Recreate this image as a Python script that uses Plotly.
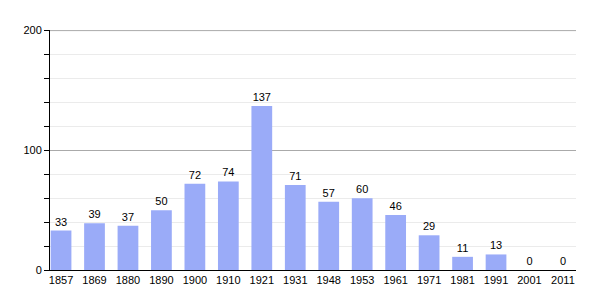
import plotly.graph_objects as go

years = ["1857", "1869", "1880", "1890", "1900", "1910", "1921", "1931",
         "1948", "1953", "1961", "1971", "1981", "1991", "2001", "2011"]
population = [33, 39, 37, 50, 72, 74, 137, 71, 57, 60, 46, 29, 11, 13, 0, 0]

fig = go.Figure(go.Bar(
    x=years, y=population,
    marker=dict(color="#9aabf8", line=dict(width=0)),
    width=0.62,
    text=[str(v) for v in population],
    textposition="outside",
    textfont=dict(size=11, color="#000"),
    cliponaxis=False,
))

fig.update_layout(
    width=605, height=300,
    margin=dict(l=50, r=29, t=30, b=30),
    paper_bgcolor="white", plot_bgcolor="white",
    font=dict(family="Liberation Sans, Arial, sans-serif", size=11, color="#000"),
    showlegend=False,
    bargap=0.38,
    shapes=[dict(type="line", xref="x domain", x0=0, x1=1, yref="y", y0=200, y1=200,
                 line=dict(color="#aaaaaa", width=1), layer="above")],
)
fig.update_xaxes(
    type="category", range=[-0.33, 15.39],
    showline=True, linecolor="#000", linewidth=1,
    ticks="", showgrid=False, tickfont=dict(size=11),
)
fig.update_yaxes(
    range=[0, 200.5], tickvals=[0, 100, 200],
    showline=True, linecolor="#000", linewidth=1,
    ticks="outside", ticklen=5, tickcolor="#000",
    gridcolor="#aaaaaa", gridwidth=1,
    zeroline=False,
    minor=dict(dtick=20, showgrid=True, gridcolor="#ebebeb",
               ticks="outside", ticklen=5, tickcolor="#000"),
    tickfont=dict(size=11, color="#000"),
)

fig.write_html("out.html")
